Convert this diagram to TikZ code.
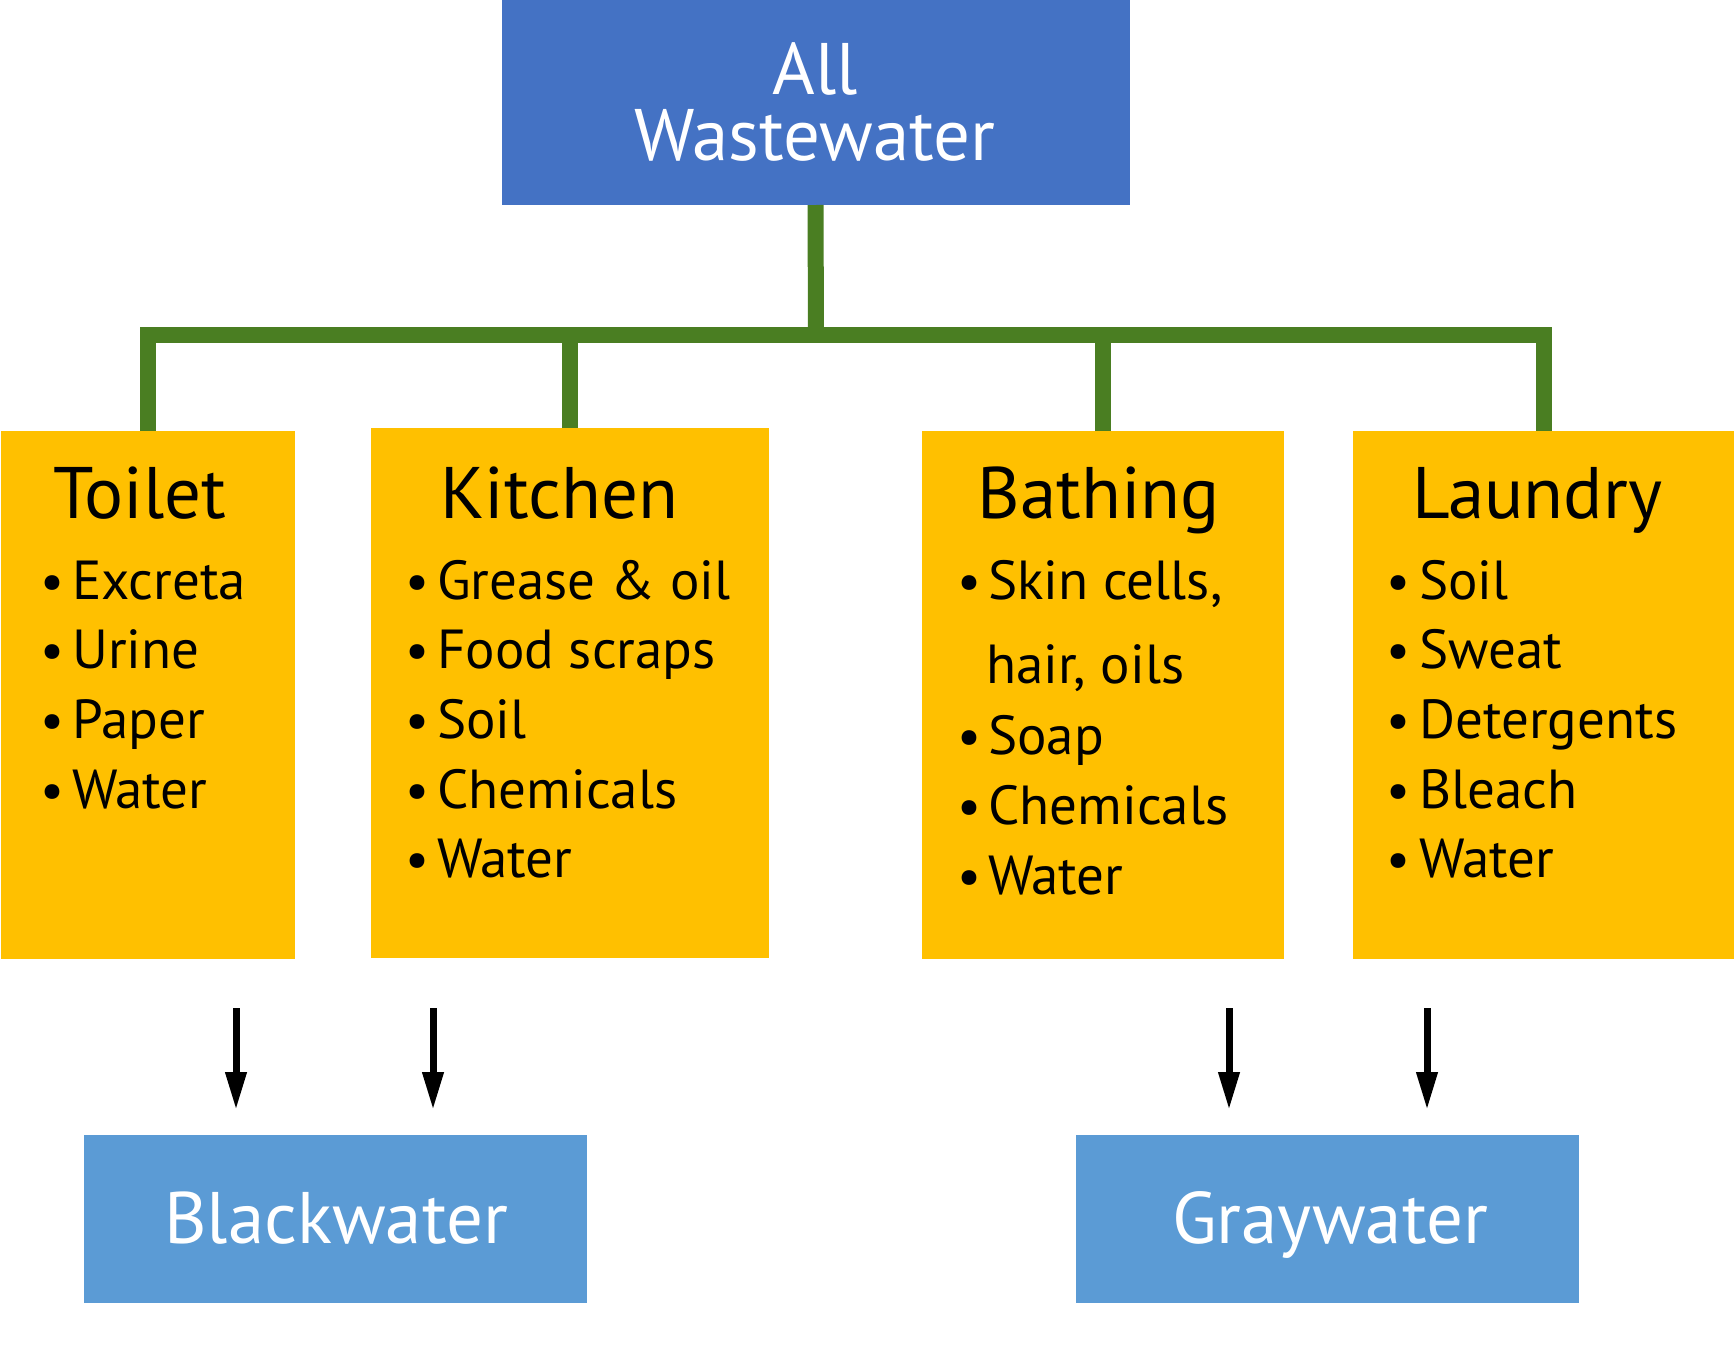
\documentclass[tikz,border=0pt]{standalone}
\usepackage{fontspec}
\setmainfont{PT Sans}
\usetikzlibrary{arrows.meta}
\definecolor{topblue}{HTML}{4472C4}
\definecolor{boxyellow}{HTML}{FFC000}
\definecolor{linegreen}{HTML}{4A7E22}
\definecolor{outblue}{HTML}{5B9BD5}
\begin{document}
\begin{tikzpicture}[x=1pt,y=-1pt,
  rectbox/.style={inner sep=0pt, outer sep=0pt, anchor=north west, draw=none},
  srcbox/.style={rectbox, fill=boxyellow, minimum height=528pt},
  conn/.style={draw=linegreen, line width=16pt, line join=miter},
  arr/.style={draw=black, line width=7pt, -{Triangle[length=38pt,width=20pt]}},
  head/.style={anchor=base, inner sep=0pt, font=\fontsize{73}{80}\selectfont},
  itm/.style={anchor=base west, inner sep=0pt, font=\fontsize{55}{60}\selectfont},
  bul/.style={anchor=base, inner sep=0pt, font=\fontsize{53}{60}\selectfont},
  wlabel/.style={anchor=base, inner sep=0pt, text=white}
]
\useasboundingbox (0,0) rectangle (1736,1357);

% top box
\node[rectbox, fill=topblue, minimum width=628pt, minimum height=205pt] (top) at (501.5,0) {};
\node[wlabel, align=center, font={\fontsize{73}{66}\selectfont\lineskiplimit=-200pt\lineskip=0pt}] (alltxt) at (815,160) {All\\Wastewater};

% source boxes
\node[srcbox, minimum width=293.5pt] (toilet) at (1,431) {};
\node[srcbox, minimum width=398pt, minimum height=530pt] (kitchen) at (371,428) {};
\node[srcbox, minimum width=362pt] (bathing) at (922,431) {};
\node[srcbox, minimum width=381pt] (laundry) at (1353,431) {};

% connectors
\coordinate (bus) at (816,335);
\draw[conn] (top.south) -- (bus);
\draw[conn] (toilet.north) |- (bus) -| (laundry.north);
\draw[conn] (kitchen.north) -- (kitchen.north |- bus);
\draw[conn] (bathing.north) -- (bathing.north |- bus);

% headings
\node[head] (toilethead) at (140,518) {Toilet};
\node[head] (kitchenhead) at (559,518) {Kitchen};
\node[head] (bathinghead) at (1099,518) {Bathing};
\node[head] (laundryhead) at (1537,518) {Laundry};

% toilet items
\foreach \txt [count=\i] in {Excreta,Urine,Paper,Water}{
  \node[bul] (tb\i) at ({52},{599+69.7*(\i-1)}) {•};
  \node[itm] (ti\i) at ({72},{599+69.7*(\i-1)}) {\txt};
}
% kitchen items
\foreach \txt [count=\i] in {Grease \& oil,Food scraps,Soil,Chemicals,Water}{
  \node[bul] (kb\i) at ({417},{599+69.7*(\i-1)}) {•};
  \node[itm] (ki\i) at ({437},{599+69.7*(\i-1)}) {\txt};
}
% bathing items
\node[bul] (bb1) at (969,599) {•};
\node[itm] (bi1) at (988,599) {Skin cells,};
\node[itm] (bi1b) at (986,683) {hair, oils};
\foreach \txt [count=\i] in {Soap,Chemicals,Water}{
  \node[bul] (bb\i x) at ({969},{754+70*(\i-1)}) {•};
  \node[itm] (bi\i x) at ({988},{754+70*(\i-1)}) {\txt};
}
% laundry items
\foreach \txt [count=\i] in {Soil,Sweat,Detergents,Bleach,Water}{
  \node[bul] (lb\i) at ({1398},{599+69.7*(\i-1)}) {•};
  \node[itm] (li\i) at ({1419},{599+69.7*(\i-1)}) {\txt};
}

% outputs
\node[rectbox, fill=outblue, minimum width=503pt, minimum height=168pt] (black) at (84,1135) {};
\node[rectbox, fill=outblue, minimum width=503pt, minimum height=168pt] (gray) at (1076,1135) {};
\node[wlabel, font=\fontsize{73}{80}\selectfont] (blacktxt) at (336,1243) {Blackwater};
\node[wlabel, font=\fontsize{73}{80}\selectfont] (graytxt) at (1330,1243) {Graywater};

% arrows
\coordinate (a1s) at (236,1008); \coordinate (a1e) at (236,1110);
\coordinate (a2s) at (433,1008); \coordinate (a2e) at (433,1110);
\coordinate (a3s) at (1229,1008); \coordinate (a3e) at (1229,1110);
\coordinate (a4s) at (1427,1008); \coordinate (a4e) at (1427,1110);
\draw[arr] (a1s) -- (a1e);
\draw[arr] (a2s) -- (a2e);
\draw[arr] (a3s) -- (a3e);
\draw[arr] (a4s) -- (a4e);
\end{tikzpicture}
\end{document}
